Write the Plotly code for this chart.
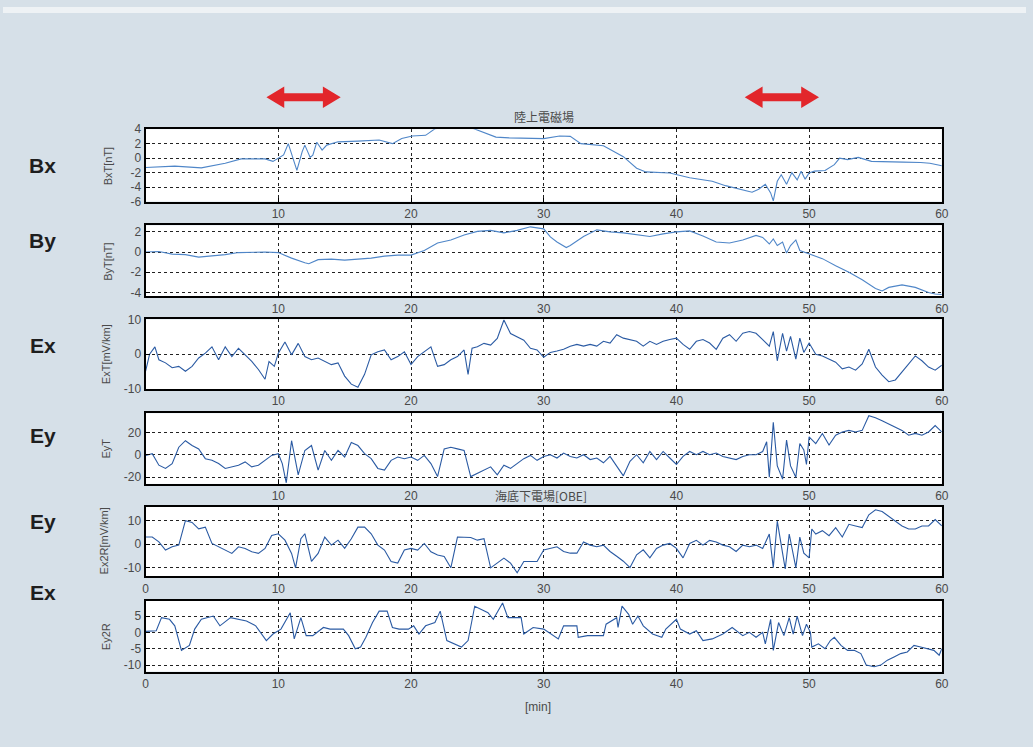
import plotly.graph_objects as go

# ---------------- data ----------------
bx_t = [0, 2.2, 4.2, 6, 7.2, 9, 9.6, 10, 10.4, 10.75, 11.1, 11.4, 11.8, 12, 12.4, 12.6, 12.9, 13.3, 13.65,
        14.5, 16, 17.6, 18.6, 19.3, 20.1, 21.1, 21.8, 22.6, 24.4, 25.4, 26.4, 27.4, 29.1, 30, 31.2, 32, 32.8,
        34.3, 34.5, 36, 37, 37.7, 39.5, 41, 42.7, 43.7, 44.7, 45.7, 46.2, 46.7, 47.1, 47.3, 47.6, 47.9, 48.3,
        48.7, 49.1, 49.4, 49.7, 50, 50.4, 51.2, 51.9, 52.3, 52.9, 53.7, 54.7, 55.9, 57.1, 58.4, 59.1, 60]
bx_v = [-1.3, -1.1, -1.35, -0.7, -0.1, -0.1, -0.45, 0, 0.45, 2.0, 0, -1.7, 0.9, 1.8, 0.1, 0.4, 2.2, 1.1, 1.8,
        2.25, 2.35, 2.5, 2.0, 2.7, 3.05, 3.15, 4.05, 4.3, 4.3, 3.6, 2.9, 2.8, 2.8, 2.7, 3.05, 3.0, 2.0,
        1.8, 1.7, 0.2, -1.4, -1.9, -2.05, -2.7, -3.2, -3.8, -4.3, -4.7, -4.3, -3.6, -4.8, -5.9, -3.2, -2.3, -3.6,
        -2.0, -3.0, -1.8, -2.9, -2.05, -1.8, -1.7, -0.9, 0, -0.2, 0.1, -0.45, -0.55, -0.55, -0.6, -0.7, -1.05]

by_t = [0, 1, 2, 3, 4, 5, 6, 7, 8, 9, 10, 11, 12, 12.3, 13, 14, 15, 16, 17, 18, 19, 20, 21, 22, 23, 24, 25,
        26, 27, 28, 29, 30, 30.5, 31, 31.7, 32, 33, 34, 35, 36, 37, 38, 39, 40, 41, 42, 43, 44, 45, 46, 46.5,
        47, 47.3, 47.6, 48, 48.3, 48.6, 49, 49.3, 49.6, 50, 51, 52, 53, 54, 55, 55.5, 56, 57, 58, 59, 59.5, 60]
by_v = [0, 0.05, -0.2, -0.25, -0.5, -0.4, -0.25, -0.05, 0, 0, -0.05, -0.6, -1.05, -1.15, -0.75, -0.7, -0.8,
        -0.7, -0.6, -0.4, -0.3, -0.3, 0.15, 0.9, 1.2, 1.7, 2.05, 2.15, 1.9, 2.15, 2.5, 2.3, 1.5, 1.0, 0.45,
        0.65, 1.55, 2.2, 2.0, 1.9, 1.7, 1.55, 1.8, 2.0, 2.1, 1.6, 1.0, 0.9, 1.2, 1.65, 1.45, 0.8, 1.3, 0.65,
        1.0, -0.1, 0.65, 1.2, 0.15, 0, -0.15, -0.65, -1.35, -2.0, -2.75, -3.6, -3.85, -3.5, -3.25, -3.5, -4.0,
        -4.15, -4.2]

ex_t = [0, 0.3, 0.7, 1, 1.5, 2, 2.5, 3, 3.5, 4, 4.5, 5, 5.5, 6, 6.5, 7, 7.5, 8, 8.5, 9, 9.3, 9.7, 10, 10.5,
        11, 11.5, 12, 12.5, 13, 13.5, 14, 14.5, 15, 15.5, 16, 16.5, 17, 17.5, 18, 18.5, 19, 19.5, 20, 20.5,
        21, 21.5, 22, 22.5, 23, 23.5, 24, 24.3, 24.6, 25, 25.5, 26, 26.5, 27, 27.5, 28, 28.5, 29, 29.5, 30,
        30.5, 31, 31.5, 32, 32.5, 33, 33.5, 34, 34.5, 35, 35.5, 36, 36.5, 37, 37.5, 38, 38.5, 39, 39.5, 40,
        40.5, 41, 41.5, 42, 42.5, 43, 43.5, 44, 44.5, 45, 45.5, 46, 46.5, 47, 47.3, 47.6, 48, 48.3, 48.6, 49,
        49.3, 49.6, 50, 50.5, 51, 51.5, 52, 52.5, 53, 53.5, 54, 54.5, 55, 55.5, 56, 56.5, 57, 57.5, 58, 58.5,
        59, 59.5, 60]
ex_v = [-4.9, 0, 2.1, -1.6, -2.5, -3.9, -3.5, -4.9, -3.5, -1.1, 0.3, 2.1, -1.6, 2.1, -0.7, 1.7, -0.2, -2.1,
        -4.4, -7.2, -2.1, -3.5, 0.3, 3.5, -0.2, 3.1, -0.7, -1.6, -1.1, -2.1, -3.0, -2.5, -6.3, -8.6, -9.5,
        -5.8, -0.2, 0.7, 1.2, -1.6, -0.7, 0.7, -3.0, -0.7, 0.7, 2.1, -3.5, -3.0, -1.6, -0.7, 1.2, -5.8, 1.7,
        2.1, 3.1, 2.6, 4.5, 9.8, 5.9, 5.0, 4.0, 1.7, 1.2, -0.9, 0.5, 0.9, 1.4, 2.3, 2.8, 2.3, 2.8, 2.3, 3.7,
        3.2, 5.6, 4.6, 4.2, 3.7, 2.3, 3.7, 2.8, 3.7, 4.2, 4.6, 2.8, 1.4, 3.7, 4.2, 3.2, 1.4, 4.6, 5.6, 3.7,
        6.0, 6.5, 6.0, 4.2, 2.3, 6.5, -1.9, 6.0, 0.9, 5.1, -1.4, 4.6, 0.5, 3.2, 0, -0.5, -1.4, -2.3, -4.2,
        -3.7, -4.6, -2.8, 1.4, -3.7, -6.0, -7.9, -7.4, -5.1, -2.8, -0.5, -1.9, -3.7, -4.6, -3.2]

ey_t = [0, 0.5, 1, 1.5, 2, 2.5, 3, 3.5, 4, 4.5, 5, 5.5, 6, 6.5, 7, 7.5, 8, 8.5, 9, 9.5, 10, 10.3, 10.6, 11,
        11.5, 12, 12.5, 13, 13.5, 14, 14.5, 15, 15.5, 16, 16.5, 17, 17.5, 18, 18.5, 19, 19.5, 20, 20.5, 21,
        21.5, 22, 22.5, 23, 23.5, 24, 24.5, 25, 25.5, 26, 26.5, 27, 27.5, 28, 28.5, 29, 29.5, 30, 30.5, 31,
        31.5, 32, 32.5, 33, 33.5, 34, 34.5, 35, 35.5, 36, 36.5, 37, 37.5, 38, 38.5, 39, 39.5, 40, 40.5, 41,
        41.5, 42, 42.5, 43, 43.5, 44, 44.5, 45, 45.5, 46, 46.5, 46.8, 47, 47.3, 47.6, 48, 48.3, 48.6, 49, 49.3,
        49.6, 49.8, 50, 50.5, 51, 51.5, 52, 52.5, 53, 53.5, 54, 54.5, 55, 55.5, 56, 56.5, 57, 57.5, 58, 58.5,
        59, 59.5, 60]
ey_v = [-0.6, 0.9, -9.3, -12.2, -7.9, 6.7, 12.5, 8.2, 5.2, -3.5, -5.0, -7.9, -12.2, -10.8, -9.3, -6.4,
        -10.8, -9.3, -5.0, -0.6, 0.9, -7.9, -25, 12.5, -18, 3.8, 8.2, -13.7, 3.8, -5.0, 3.8, -2.0, 11, 8.2,
        0.9, -3.5, -12.2, -13.7, -5.0, -2.0, -3.5, -2.0, -5.0, -0.6, -7.9, -19.5, 5.2, 6.7, 5.2, 3.8, -19.5,
        -16.6, -13.7, -10.8, -18, -9.3, -12.2, -7.9, -3.5, -0.6, -5.0, -1.5, 0, -2.9, 1.5, -1.5, -2.9, 0,
        -4.3, -2.9, -7.2, -1.5, -10, -18.8, -5.8, 0, -7.2, 2.9, -4.3, 2.9, -2.9, -8.7, -1.5, 2.9, 0, 2.9, 0,
        1.5, -1.5, -2.9, -4.3, -1.5, 0, 0, 2.9, 11.6, -20, 29, -10, -21.7, 13, -10, -20, 10, 4.3, -8.7, 16,
        10, 19, 8.7, 17.4, 20.3, 21.7, 20.3, 21.7, 34.8, 33, 30.4, 27.5, 24.6, 21.7, 17.4, 19, 17.4, 20.3, 26,
        20.3]

ex2r_t = [0, 0.5, 1, 1.5, 2, 2.5, 3, 3.5, 4, 4.5, 5, 5.5, 6, 6.5, 7, 7.5, 8, 8.5, 9, 9.5, 10, 10.5, 11,
          11.3, 11.7, 12, 12.5, 13, 13.5, 14, 14.5, 15, 15.5, 16, 16.5, 17, 17.5, 18, 18.5, 19, 19.5, 20,
          20.5, 21, 21.5, 22, 22.5, 23, 23.5, 24, 24.5, 25, 25.5, 26, 26.5, 27, 27.5, 28, 28.5, 29, 29.5, 30,
          30.5, 31, 31.5, 32, 32.5, 33, 33.5, 34, 34.5, 35, 35.5, 36, 36.5, 37, 37.5, 38, 38.5, 39, 39.5, 40,
          40.5, 41, 41.5, 42, 42.5, 43, 43.5, 44, 44.5, 45, 45.5, 46, 46.5, 47, 47.3, 47.6, 48, 48.2, 48.5,
          49, 49.3, 49.6, 50, 50.2, 50.5, 51, 51.5, 52, 52.5, 53, 53.5, 54, 54.5, 55, 55.5, 56, 56.5, 57,
          57.5, 58, 58.5, 59, 59.5, 60]
ex2r_v = [3.0, 3.0, 1.0, -2.5, -1.1, -0.4, 9.9, 9.2, 6.5, 7.2, 0.3, -1.1, -2.5, -3.9, -1.1, -1.8, -3.2,
          -3.9, -1.8, 3.7, 4.4, 1.7, -3.9, -10, 2.3, 4.4, -7.3, -3.9, 3.0, -0.4, 1.7, -1.8, 2.3, 7.2, 7.2,
          4.4, -0.4, -2.5, -7.3, -8, -2.5, -1.8, -2.5, 0.3, -3.2, -4.6, -5.2, -10, 3.0, 3.0, 2.8, 1.7, 2.3,
          -10, -8, -5.9, -8, -12.1, -7.3, -7.3, -7.3, -2.5, -1.8, -1.1, -3.1, -3.8, -3.8, 0.9, -0.4, -1.1,
          -0.4, -3.1, -5.1, -7.2, -9.9, -4.5, -2.4, -5.8, -1.8, -0.4, 0.3, -1.8, -5.8, 0.3, 1.6, -0.4, 1.6,
          0.9, -0.4, -1.1, -3.1, -0.4, -1.1, -0.4, -1.8, 4.3, -9.9, 9.7, -3.8, -10.5, 4.3, -9.9, 3.0, -3.8,
          -5.8, 6.4, 4.3, 5.7, 3.6, 7.0, 3.0, 8.4, 7.7, 7.0, 12.4, 14.5, 13.8, 11.8, 9.7, 7.7, 6.4, 6.4, 7.7,
          7.7, 10.4, 7.7]

ey2r_t = [0, 0.8, 1.2, 1.8, 2.2, 2.7, 3.3, 3.7, 4.2, 5.1, 5.6, 6.4, 7.6, 8.3, 9.1, 9.6, 10.2, 10.9, 11.2,
          11.7, 12.1, 12.6, 13.4, 13.9, 14.9, 15.3, 15.8, 16.2, 16.6, 17.1, 17.6, 18.2, 18.6, 19.1, 19.8,
          20.2, 20.6, 21.1, 21.8, 22.2, 22.7, 23.2, 23.8, 24.3, 24.8, 25.3, 25.8, 26.2, 26.9, 27.3, 28.3,
          28.5, 29.2, 30, 31.1, 31.5, 32.5, 32.6, 33.3, 34.5, 34.7, 35.5, 35.6, 35.9, 36.4, 36.7, 37.1, 37.5,
          38.2, 38.9, 39.2, 40, 40.3, 41, 41.5, 42, 42.7, 43.5, 44.2, 45, 45.5, 46, 46.5, 46.7, 47.1, 47.3,
          47.7, 48.1, 48.5, 48.8, 49.1, 49.5, 49.8, 50.1, 50.2, 50.7, 51.2, 51.6, 51.9, 52.4, 52.9, 53.4,
          53.9, 54.3, 54.9, 55.4, 55.9, 56.4, 56.9, 57.4, 57.9, 58.4, 58.9, 59.4, 59.8, 60]
ey2r_v = [0.3, 0.5, 4.5, 4.0, 2.0, -5.5, -4.0, 1.0, 4.0, 5.0, 2.0, 4.5, 3.5, 2.0, -2.5, -0.5, 1.0, 6.0,
          -2.0, 4.5, -1.0, -1.0, 1.5, 1.0, 1.0, -1.0, -5.0, -4.5, -1.5, 3.0, 6.5, 6.5, 1.5, 1.0, 1.0, 2.0,
          -0.5, 2.0, 3.0, 6.5, -2.5, -3.5, -4.5, -2.5, 8.0, 7.0, 6.0, 4.0, 9.0, 4.5, 4.5, -0.5, 1.5, 1.0,
          -2.0, 2.0, 2.0, -1.5, -1.0, -1.0, 2.5, 4.5, 1.5, 8.0, 5.5, 2.5, 5.0, 2.0, -0.5, -1.5, 1.0, 4.0,
          1.0, -0.5, 0.5, -2.5, -2.0, -0.5, 1.5, -1.0, 0.0, -1.5, 0.0, -3.5, 4.0, -5.5, 3.0, -1.0, 4.5, -0.5,
          5.0, -1.0, 2.5, 0.0, -4.5, -3.5, -5.0, -2.5, -1.5, -4.0, -5.5, -5.5, -6.5, -10.0, -10.5, -10.0,
          -8.5, -7.5, -6.5, -6.0, -4.0, -4.5, -5.0, -5.5, -7.0, -5.0]

y_titles = ["BxT[nT]", "ByT[nT]", "ExT[mV/km]", "EyT", "Ex2R[mV/km]", "Ey2R"]
side_labels = ["Bx", "By", "Ex", "Ey", "Ey", "Ex"]
y_ticks = [[-6, -4, -2, 0, 2, 4], [-4, -2, 0, 2], [-10, 0, 10], [-20, 0, 20], [-10, 0, 10], [-10, -5, 0, 5]]
x_ticks_top = [10, 20, 30, 40, 50, 60]
x_ticks_bottom = [0, 10, 20, 30, 40, 50, 60]
title_land = "陸上電磁場"
title_sea = "海底下電場[OBE]"
x_label = "[min]"

# ---------------- layout geometry (pixels) ----------------
W, H = 1033, 747
X0, X1 = 144, 948
panels_px = [(124.5, 198.3), (222.5, 295), (318.3, 389.3), (414, 486), (509.3, 580), (605, 677.3)]
y_ranges = [[-6, 4], [-4.4, 2.65], [-10, 10], [-26, 37], [-13.5, 15.8], [-12, 9.7]]
line_colors = ["#4f86c8", "#4f86c8", "#2a5aa3", "#2a5aa3", "#2a5aa3", "#2a5aa3"]


def px(x):
    return x / W


def py(y):
    return 1 - y / H


series = [(bx_t, bx_v), (by_t, by_v), (ex_t, ex_v), (ey_t, ey_v), (ex2r_t, ex2r_v), (ey2r_t, ey2r_v)]

fig = go.Figure()
for i, (t, v) in enumerate(series):
    suf = "" if i == 0 else str(i + 1)
    fig.add_trace(go.Scatter(x=t, y=v, mode="lines", line=dict(color=line_colors[i], width=1.1),
                             xaxis="x" + suf, yaxis="y" + suf, showlegend=False, hoverinfo="skip"))

axis_font = dict(family="Liberation Sans, Arial, sans-serif", size=12, color="#4a4a4a")
layout = dict(width=W, height=H, margin=dict(l=0, r=0, t=0, b=0),
              paper_bgcolor="#d6e0e8", plot_bgcolor="white", showlegend=False)

for i in range(6):
    suf = "" if i == 0 else str(i + 1)
    top, bot = panels_px[i]
    xticks = x_ticks_bottom if i >= 4 else x_ticks_top
    # the 30 label under panel 4 is covered by the sea-floor title in the original
    xtext = ["" if (i == 3 and v == 30) else str(v) for v in xticks]
    layout["xaxis" + suf] = dict(domain=[px(X0), px(X1)], anchor="y" + suf, range=[0, 60],
                                 tickvals=xticks, ticktext=xtext,
                                 showgrid=True, gridcolor="#222", griddash="dot", gridwidth=1,
                                 showline=True, mirror=True, linecolor="black", linewidth=2,
                                 ticks="inside", ticklen=4, tickcolor="black", zeroline=False,
                                 tickfont=axis_font)
    layout["yaxis" + suf] = dict(domain=[py(bot), py(top)], anchor="x" + suf, range=y_ranges[i],
                                 tickvals=y_ticks[i], ticktext=[str(v) for v in y_ticks[i]],
                                 showgrid=True, gridcolor="#222", griddash="dot", gridwidth=1,
                                 showline=True, mirror=True, linecolor="black", linewidth=2,
                                 ticks="inside", ticklen=4, tickcolor="black", zeroline=False,
                                 tickfont=axis_font)

fig.update_layout(**layout)


def note(x, y, text, font, angle=0):
    fig.add_annotation(x=px(x), y=py(y), xref="paper", yref="paper", text=text, textangle=angle,
                       showarrow=False, xanchor="center", yanchor="middle", font=font)


# y-axis titles (rotated)
title_x = [106, 106, 104, 104, 102, 104]
for i in range(6):
    top, bot = panels_px[i]
    note(title_x[i], (top + bot) / 2, y_titles[i],
         dict(family="Liberation Sans, Arial, sans-serif", size=11, color="#4a4a4a"), angle=-90)

# big side labels
side_y = [162, 238, 345, 437, 524, 597]
for lab, yy in zip(side_labels, side_y):
    note(40, yy, "<b>" + lab + "</b>",
         dict(family="Liberation Sans Narrow, Liberation Sans, Arial", size=21, color="#1e1e1e"))

# section titles
note(546, 112, title_land, dict(family="Noto Sans CJK JP", size=12, color="#4a4a4a"))
note(543, 498, title_sea, dict(family="Noto Sans CJK JP", size=12, color="#4a4a4a"))
note(540, 713, x_label, dict(family="Liberation Sans, Arial", size=12, color="#4a4a4a"))


# red double arrows
def arrow_path(x0, x1, yc, head=18, hh=11, bar=4):
    pts = [(x0, yc), (x0 + head, yc - hh), (x0 + head, yc - bar), (x1 - head, yc - bar), (x1 - head, yc - hh),
           (x1, yc), (x1 - head, yc + hh), (x1 - head, yc + bar), (x0 + head, yc + bar), (x0 + head, yc + hh)]
    return "M " + " L ".join(f"{px(a):.5f},{py(b):.5f}" for a, b in pts) + " Z"


for (a0, a1) in [(266, 341), (749, 824)]:
    fig.add_shape(type="path", path=arrow_path(a0, a1, 92), xref="paper", yref="paper",
                  fillcolor="#e2262b", line=dict(width=0))

# light strip along the top edge of the scanned page
fig.add_shape(type="rect", x0=0, x1=1, y0=py(6), y1=1, xref="paper", yref="paper",
              fillcolor="#eef2f5", line=dict(width=0), layer="below")

fig.write_html("out.html", config={"displayModeBar": False},
               post_script="document.body.style.margin='0';document.body.style.overflow='hidden';")
